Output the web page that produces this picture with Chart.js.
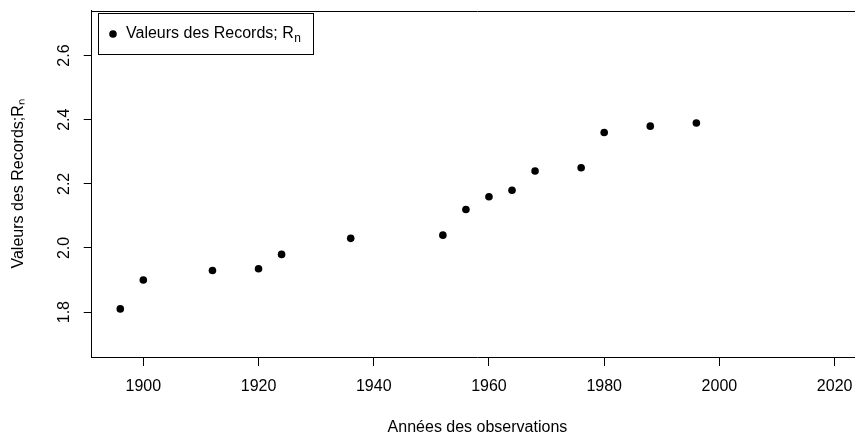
<!DOCTYPE html>
<html><head><meta charset="utf-8">
<script src="https://cdn.jsdelivr.net/npm/chart.js@4"></script>
<style>html,body{margin:0;padding:0;background:#fff;overflow:hidden}#wrap{width:855px;height:434px;position:relative;overflow:hidden}</style>
</head><body><div id="wrap"><canvas id="c" width="867" height="434"></canvas></div>
<script>
const years = [1896, 1900, 1912, 1920, 1924, 1936, 1952, 1956, 1960, 1964, 1968, 1976, 1980, 1988, 1996];
const records = [1.81, 1.90, 1.93, 1.935, 1.98, 2.03, 2.04, 2.12, 2.16, 2.18, 2.24, 2.25, 2.36, 2.38, 2.39];
const xTicks = [1900, 1920, 1940, 1960, 1980, 2000, 2020];
const yTicks = [1.8, 2.0, 2.2, 2.4, 2.6];
const xTitle = 'Années des observations';
const yTitle = 'Valeurs des Records;Rₙ';
const legendMain = 'Valeurs des Records; R';
const legendSub = 'n';

const FONT = "'Liberation Sans', Arial, Helvetica, sans-serif";
const TXT = '#000';

const legendPlugin = {
  id: 'rLegend',
  afterDraw(chart) {
    const ctx = chart.ctx, a = chart.chartArea;
    const x0 = a.left + 6, y0 = a.top + 2.6, w = 215, h = 40.7;
    ctx.save();
    ctx.fillStyle = '#fff';
    ctx.fillRect(x0, y0, w, h);
    ctx.strokeStyle = '#000';
    ctx.lineWidth = 1;
    ctx.strokeRect(Math.round(x0) + 0.5, Math.round(y0) + 0.5, Math.round(w), Math.round(h));
    ctx.fillStyle = '#000';
    ctx.beginPath();
    ctx.arc(x0 + 15.3, y0 + 20.7, 3.8, 0, Math.PI * 2);
    ctx.fill();
    ctx.fillStyle = TXT;
    ctx.font = '16px ' + FONT;
    ctx.textBaseline = 'middle';
    ctx.textAlign = 'left';
    const tx = x0 + 28.3, ty = y0 + 20.7;
    ctx.fillText(legendMain, tx, ty);
    const mw = ctx.measureText(legendMain).width;
    ctx.font = '12px ' + FONT;
    ctx.fillText(legendSub, tx + mw + 0.5, ty + 4.5);
    ctx.restore();
  }
};

const topBorder = {
  id: 'topBorder',
  afterDraw(chart) {
    const ctx = chart.ctx, a = chart.chartArea;
    ctx.save();
    ctx.strokeStyle = '#000';
    ctx.lineWidth = 1;
    const y = Math.round(a.top) + 0.5;
    ctx.beginPath();
    ctx.moveTo(a.left, y);
    ctx.lineTo(a.right, y);
    ctx.stroke();
    ctx.restore();
  }
};

new Chart(document.getElementById('c'), {
  type: 'scatter',
  data: {
    datasets: [{
      label: legendMain + legendSub,
      data: years.map((y, i) => ({ x: y, y: records[i] })),
      backgroundColor: '#000',
      borderColor: '#000',
      borderWidth: 0,
      pointRadius: 3.8,
      pointHoverRadius: 3.8
    }]
  },
  options: {
    responsive: false,
    devicePixelRatio: 1,
    animation: false,
    events: [],
    layout: { padding: { top: 10.7, left: 0, right: 0, bottom: 0 } },
    plugins: { legend: { display: false }, tooltip: { enabled: false } },
    scales: {
      x: {
        type: 'linear',
        min: 1891.04,
        max: 2024.96,
        afterBuildTicks: s => { s.ticks = xTicks.map(v => ({ value: v })); },
        afterFit: s => { s.height = 77; s.paddingLeft = 0; s.paddingRight = 0; },
        grid: { display: true, drawOnChartArea: false, drawTicks: true, tickLength: 9, color: '#000', tickColor: '#000' },
        border: { display: true, color: '#000', width: 1 },
        ticks: { callback: v => String(v), color: TXT, font: { family: FONT, size: 16 }, padding: 11, maxRotation: 0, minRotation: 0, autoSkip: false },
        title: { display: true, text: xTitle, color: TXT, font: { family: FONT, size: 16, lineHeight: 1 }, padding: { top: 0, bottom: -2 } }
      },
      y: {
        type: 'linear',
        min: 1.66,
        max: 2.74,
        afterBuildTicks: s => { s.ticks = yTicks.map(v => ({ value: v })); },
        afterFit: s => { s.width = 91.7; s.paddingTop = 0; s.paddingBottom = 0; },
        grid: { display: true, drawOnChartArea: false, drawTicks: true, tickLength: 8, color: '#000', tickColor: '#000' },
        border: { display: true, color: '#000', width: 1 },
        ticks: { callback: v => Number(v).toFixed(1), color: TXT, font: { family: FONT, size: 16 }, padding: 8.2, minRotation: 90, maxRotation: 90, crossAlign: 'center', autoSkip: false },
        title: { display: true, text: yTitle, color: TXT, font: { family: FONT, size: 16, lineHeight: 1 }, padding: { top: 11, bottom: 0 } }
      }
    }
  },
  plugins: [legendPlugin, topBorder]
});
</script>
</body></html>
